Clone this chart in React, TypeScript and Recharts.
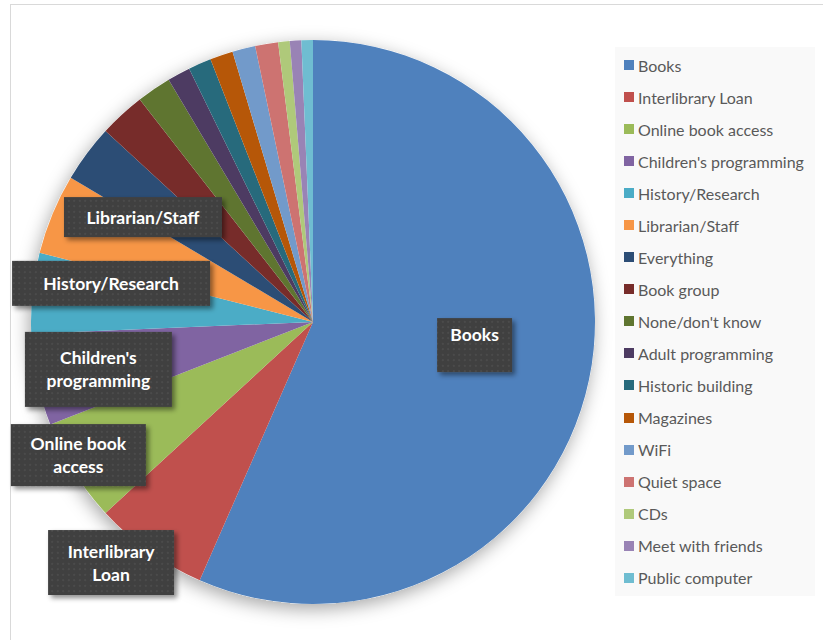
import { PieChart, Pie, Cell, Legend, Sector } from 'recharts';

const categories = [
  'Books',
  'Interlibrary Loan',
  'Online book access',
  "Children's programming",
  'History/Research',
  'Librarian/Staff',
  'Everything',
  'Book group',
  "None/don't know",
  'Adult programming',
  'Historic building',
  'Magazines',
  'WiFi',
  'Quiet space',
  'CDs',
  'Meet with friends',
  'Public computer',
];

const responses = [86, 10, 9, 8, 7, 7, 5, 4, 3, 2, 2, 2, 2, 2, 1, 1, 1];

const sliceColors = [
  '#4F81BD', '#C0504D', '#9BBB59', '#8064A2', '#4BACC6', '#F79646',
  '#2C4D75', '#772C2A', '#5F7530', '#4D3B62', '#276A7C', '#B65708',
  '#729ACA', '#CD7371', '#AFC97A', '#9983B5', '#6FBDD1',
];

// text shown in the dark callouts (only the bigger slices get one)
const calloutText: Record<string, string[]> = {
  'Books': ['Books'],
  'Interlibrary Loan': ['Interlibrary', 'Loan'],
  'Online book access': ['Online book', 'access'],
  "Children's programming": ["Children's", 'programming'],
  'History/Research': ['History/Research'],
  'Librarian/Staff': ['Librarian/Staff'],
};

// callout placement relative to pie centre, in units of the outer radius
const calloutLayout: Record<string, { dx: number; dy: number; w: number; h: number; ty: number }> = {
  'Books': { dx: 0.573, dy: 0.082, w: 75, h: 54, ty: -11 },
  'Interlibrary Loan': { dx: -0.716, dy: 0.853, w: 126, h: 65, ty: 0 },
  'Online book access': { dx: -0.832, dy: 0.472, w: 135, h: 62, ty: 0 },
  "Children's programming": { dx: -0.761, dy: 0.168, w: 147, h: 75, ty: 0 },
  'History/Research': { dx: -0.716, dy: -0.137, w: 198, h: 45, ty: 0 },
  'Librarian/Staff': { dx: -0.603, dy: -0.372, w: 158, h: 40, ty: 0 },
};

const chartData = categories.map((name, i) => ({ name, value: responses[i] }));
const FONT = 'Lato, "Open Sans", sans-serif';

const renderCallout = (props: any) => {
  const name = props.name ?? props.payload?.name;
  const lines = calloutText[name];
  if (!lines) return null;
  const box = calloutLayout[name];
  const r = props.outerRadius;
  const x = props.cx + box.dx * r;
  const y = props.cy + box.dy * r;
  const lineH = 23;
  const firstY = y + box.ty - ((lines.length - 1) * lineH) / 2;
  return (
    <g>
      <rect
        x={x - box.w / 2}
        y={y - box.h / 2}
        width={box.w}
        height={box.h}
        fill="url(#dotPattern)"
        filter="url(#boxShadow)"
      />
      {lines.map((line, i) => (
        <text
          key={line}
          x={x}
          y={firstY + i * lineH}
          textAnchor="middle"
          dominantBaseline="central"
          fill="#ffffff"
          fontFamily={FONT}
          fontWeight={700}
          fontSize={17.5}
        >
          {line}
        </text>
      ))}
    </g>
  );
};

const renderLegend = () => (
  <div
    style={{
      width: 200,
      height: 549,
      background: '#f9f9f9',
      boxSizing: 'border-box',
      paddingTop: 2,
      fontFamily: FONT,
      fontSize: 16,
      color: '#595959',
    }}
  >
    {categories.map((name, i) => (
      <div key={name} style={{ height: 32.06, display: 'flex', alignItems: 'center', paddingLeft: 9 }}>
        <span style={{ width: 10, height: 10, background: sliceColors[i], marginRight: 4, flexShrink: 0 }} />
        <span style={{ whiteSpace: 'nowrap' }}>{name}</span>
      </div>
    ))}
  </div>
);

export default function App() {
  return (
    <div style={{ position: 'fixed', left: 0, top: 0, width: 823, height: 640, overflow: 'hidden', background: '#fff' }}>
      <div
        style={{
          position: 'absolute',
          left: 10,
          top: 4,
          width: 900,
          height: 700,
          border: '1px solid #d9d9d9',
        }}
      />
      <div style={{ position: 'absolute', left: 0, top: 0 }}>
        <PieChart width={823} height={640} margin={{ top: 0, right: 0, bottom: 0, left: 0 }}>
          <defs>
            <filter id="pieShadow" x="-20%" y="-20%" width="140%" height="140%">
              <feDropShadow dx="-2" dy="5" stdDeviation="9" floodColor="#000" floodOpacity="0.35" />
            </filter>
            <filter id="boxShadow" x="-20%" y="-20%" width="150%" height="150%">
              <feDropShadow dx="3" dy="3" stdDeviation="2.5" floodColor="#000" floodOpacity="0.45" />
            </filter>
            <pattern id="dotPattern" width="5.5" height="5.5" patternUnits="userSpaceOnUse">
              <rect width="5.5" height="5.5" fill="#404040" />
              <rect x="2" y="2" width="1.5" height="1.5" fill="#525252" />
            </pattern>
          </defs>
          <Pie
            data={[{ name: 'shadow', value: 1 }]}
            dataKey="value"
            cx={313}
            cy={322}
            outerRadius={282}
            startAngle={90}
            endAngle={-270}
            stroke="none"
            fill="#ffffff"
            legendType="none"
            isAnimationActive={false}
            shape={(p: any) => <Sector {...p} filter="url(#pieShadow)" />}
          />
          <Pie
            data={chartData}
            dataKey="value"
            nameKey="name"
            cx={313}
            cy={322}
            outerRadius={282}
            startAngle={90}
            endAngle={-270}
            stroke="none"
            labelLine={false}
            label={renderCallout}
            isAnimationActive={false}
          >
            {chartData.map((d, i) => (
              <Cell key={d.name} fill={sliceColors[i]} />
            ))}
          </Pie>
          <Legend
            layout="vertical"
            verticalAlign="top"
            align="right"
            content={renderLegend}
            wrapperStyle={{ left: 615, top: 47, width: 200 }}
          />
        </PieChart>
      </div>
    </div>
  );
}
